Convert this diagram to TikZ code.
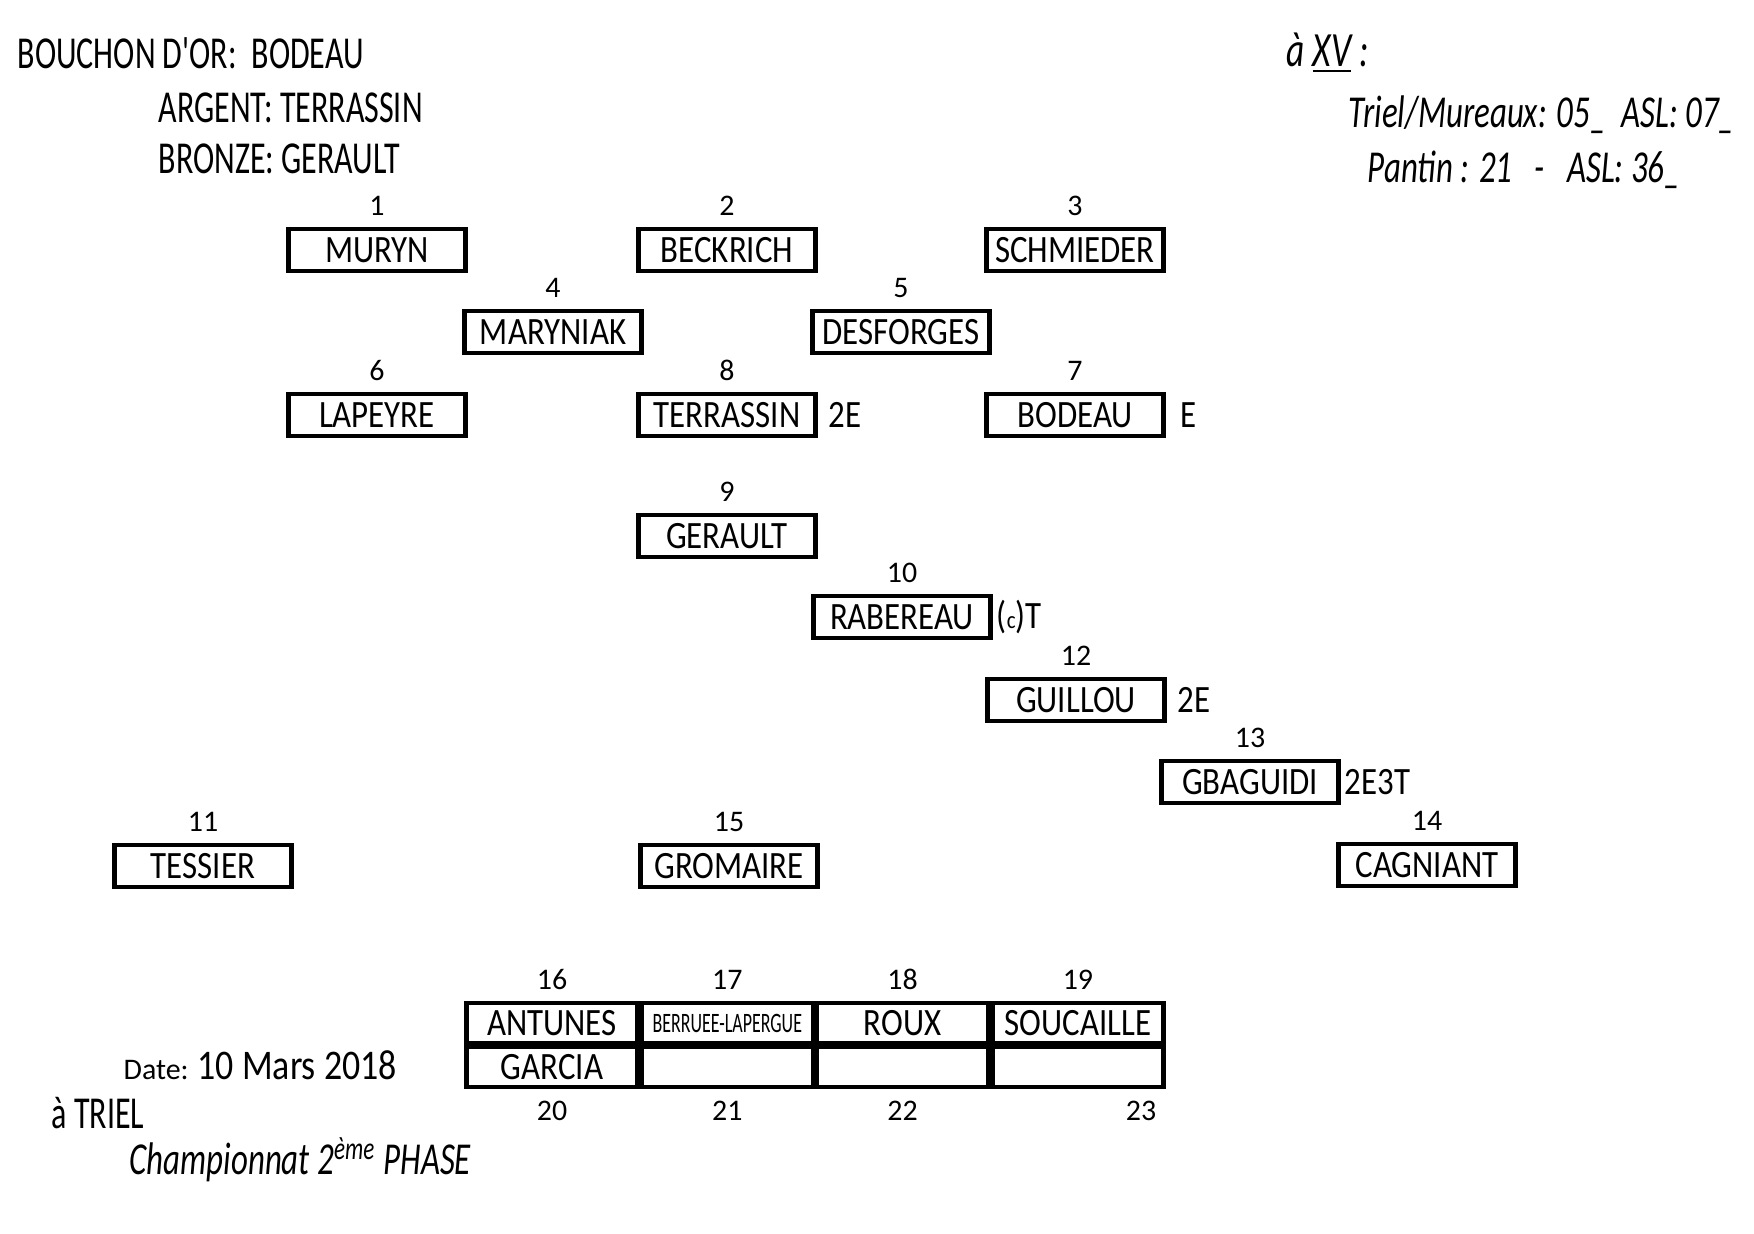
\documentclass[tikz,border=0pt]{standalone}
\usepackage{fontspec}
\setmainfont{Carlito}
\newfontfamily\handfont[FakeStretch=0.85]{Carlito}
\newfontfamily\narrowfont[FakeStretch=0.7]{Carlito}
\newfontfamily\cursivefont[FakeStretch=0.72]{Carlito}
\usetikzlibrary{positioning}

\tikzset{
  player/.style={draw, line width=1.2pt, minimum width=1.77cm, minimum height=0.42cm,
    inner sep=1pt, font=\handfont\fontsize{11}{12}\selectfont},
  numlab/.style={font=\fontsize{8.5}{10}\selectfont, inner sep=0pt, label distance=3pt},
  cell/.style={draw, line width=1.2pt, minimum width=1.71cm, minimum height=0.40cm,
    inner sep=1pt, font=\handfont\fontsize{11}{12}\selectfont},
  note/.style={font=\handfont\fontsize{11}{12}\selectfont, inner sep=1pt},
  hand/.style={font=\narrowfont\fontsize{13}{15}\selectfont, anchor=west, inner sep=0pt},
  cursive/.style={font=\cursivefont\itshape\fontsize{13}{15}\selectfont, anchor=west, inner sep=0pt}
}

\begin{document}
\begin{tikzpicture}[x=0.01cm, y=-0.01cm]
    \path[use as bounding box, fill=white] (0,0) rectangle (1754,1234);

    % Awards
    \node[hand] (gold) at (17,53) {BOUCHON D'OR:\, BODEAU};
    \node[hand] (silver) at (158,108) {ARGENT: TERRASSIN};
    \node[hand] (bronze) at (158,159) {BRONZE: GERAULT};

    % Scores
    \node[cursive, font=\cursivefont\itshape\fontsize{14}{16}\selectfont] (xv) at (1286,53) {à \underline{XV} :};
    \node[cursive] (score1) at (1348,115) {Triel/Mureaux: 05\_ \ ASL: 07\_};
    \node[cursive] (score2) at (1367,170) {Pantin : 21 \ \ - \ \ ASL: 36\_};

    % Team
    \foreach \n/\x/\y/\name in {1/377/250/MURYN, 2/727/250/BECKRICH, 3/1075/250/SCHMIEDER,
        4/553/332/MARYNIAK, 5/901/332/DESFORGES,
        6/377/415/LAPEYRE, 8/727/415/TERRASSIN, 7/1075/415/BODEAU,
        9/727/536/GERAULT, 10/902/617/RABEREAU, 12/1076/700/GUILLOU, 13/1250/782/GBAGUIDI,
        11/203/866/TESSIER, 15/729/866/GROMAIRE, 14/1427/865/CAGNIANT} {
        \node[player, label={[numlab]above:\n}] (p\n) at (\x,\y) {\name};
    }

    % Points
    \node[note, right=2pt of p8] (n8) {2E};
    \node[note, right=3pt of p7] (n7) {E};
    \node[note, right=0pt of p10] (n10) {({\scriptsize c})T};
    \node[note, right=2pt of p12] (n12) {2E};
    \node[note, right=0pt of p13] (n13) {2E3T};

    % Bench
    \node[cell, label={[numlab]above:16}] (t16) at (552,1023) {ANTUNES};
    \node[cell, right=0pt of t16, label={[numlab]above:17}] (t17)
        {\fontsize{8}{9}\selectfont\scalebox{0.75}[1]{BERRUEE-LAPERGUE}};
    \node[cell, right=0pt of t17, label={[numlab]above:18}] (t18) {ROUX};
    \node[cell, right=0pt of t18, label={[numlab]above:19}] (t19) {SOUCAILLE};
    \node[cell, below=0pt of t16, label={[numlab]below:20}] (t20) {GARCIA};
    \node[cell, below=0pt of t17, label={[numlab]below:21}] (t21) {};
    \node[cell, below=0pt of t18, label={[numlab]below:22}] (t22) {};
    \node[cell, below=0pt of t19, label={[numlab, xshift=0.63cm]below:23}] (t23) {};

    % Match
    \node[anchor=west, inner sep=0pt, font=\fontsize{8.5}{10}\selectfont] (date) at (123,1065)
        {Date: {\handfont\fontsize{12}{14}\selectfont 10 Mars 2018}};
    \node[hand] (place) at (51,1113) {à TRIEL};
    \node[cursive] (phase) at (129,1160) {Championnat 2\textsuperscript{ème} PHASE};
\end{tikzpicture}
\end{document}
